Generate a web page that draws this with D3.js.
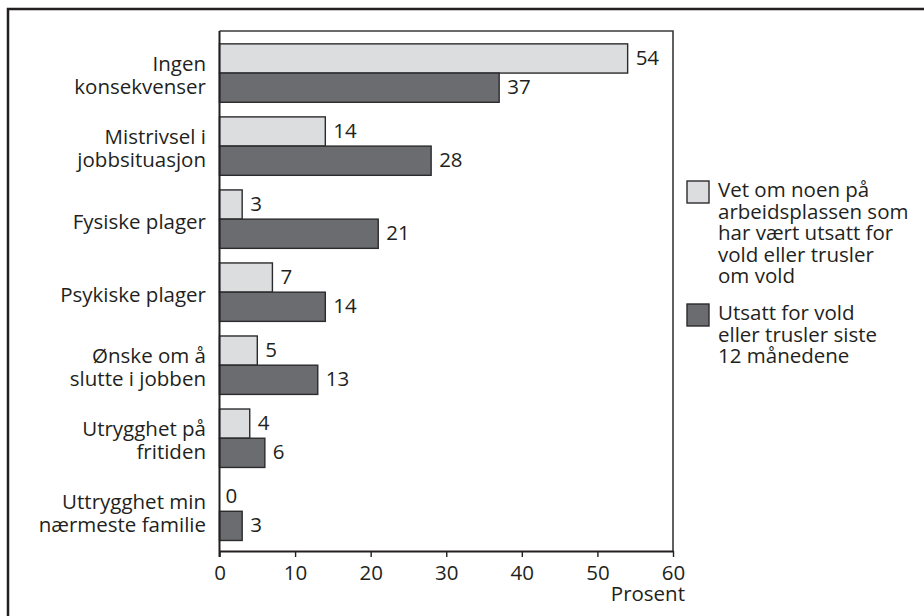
<!DOCTYPE html>
<html>
<head>
<meta charset="utf-8">
<script src="https://cdn.jsdelivr.net/npm/d3@7"></script>
<style>
  html, body { margin: 0; padding: 0; background: #fff; }
  svg { display: block; }
  text { font-family: "Open Sans", "Noto Sans", sans-serif; fill: #231f20; }
</style>
</head>
<body>
<svg id="chart" width="924" height="616"></svg>
<script>
// Consequences reported, in percent
const categories = [
  ["Ingen", "konsekvenser"],
  ["Mistrivsel i", "jobbsituasjon"],
  ["Fysiske plager"],
  ["Psykiske plager"],
  ["Ønske om å", "slutte i jobben"],
  ["Utrygghet på", "fritiden"],
  ["Uttrygghet min", "nærmeste familie"]
];
const knowsSomeone = [54, 14, 3, 7, 5, 4, 0];
const exposed = [37, 28, 21, 14, 13, 6, 3];
const seriesNames = [
  ["Vet om noen på", "arbeidsplassen som", "har vært utsatt for", "vold eller trusler", "om vold"],
  ["Utsatt for vold", "eller trusler siste", "12 månedene"]
];
const xTicks = [0, 10, 20, 30, 40, 50, 60];
const axisTitle = "Prosent";

const colors = ["#dcdddf", "#6b6c70"];
const stroke = "#2b2b2d";
const fontSize = 20.5;

const svg = d3.select("#chart");

// outer frame
svg.append("rect")
  .attr("x", 8).attr("y", 9)
  .attr("width", 1000).attr("height", 700)
  .attr("fill", "none").attr("stroke", "#231f20").attr("stroke-width", 2.5);

const plot = { left: 219.5, right: 673, top: 31, bottom: 551 };

const x = d3.scaleLinear().domain([0, 60]).range([plot.left, plot.right]);
const idx = d3.range(categories.length);
const y = d3.scaleBand().domain(idx).range([plot.top, plot.bottom])
  .paddingInner(0.2).paddingOuter(0.16).align(0.55);
const sub = d3.scaleBand().domain([0, 1]).range([0, y.bandwidth()]);

// plot frame (top and right)
svg.append("path")
  .attr("d", `M${plot.left},${plot.top}H${plot.right}V${plot.bottom}`)
  .attr("fill", "none").attr("stroke", "#3a3a3c").attr("stroke-width", 1.6);

const series = [knowsSomeone, exposed];

const groups = svg.append("g").selectAll("g")
  .data(idx).join("g")
  .attr("transform", i => `translate(0,${y(i)})`);

series.forEach((vals, s) => {
  groups.filter(i => vals[i] > 0).append("rect")
    .attr("x", x(0))
    .attr("y", sub(s))
    .attr("width", i => x(vals[i]) - x(0))
    .attr("height", sub.bandwidth())
    .attr("fill", colors[s])
    .attr("stroke", stroke).attr("stroke-width", 1.4);

  groups.append("text")
    .attr("x", i => x(vals[i]) + (vals[i] > 0 ? 8 : 6))
    .attr("y", sub(s) + sub.bandwidth() / 2 + 6.5)
    .attr("font-size", fontSize)
    .text(i => vals[i]);
});

// category labels
groups.each(function(i) {
  const lines = categories[i];
  const lh = 23.4;
  const t = d3.select(this).append("text")
    .attr("text-anchor", "end")
    .attr("font-size", fontSize)
    .attr("x", 206);
  const c = y.bandwidth() / 2 + 9.5;
  lines.forEach((ln, k) => {
    t.append("tspan")
      .attr("x", 206)
      .attr("y", c + (k - (lines.length - 1) / 2) * lh)
      .text(ln);
  });
});

// x axis
const xAxis = svg.append("g")
  .attr("transform", `translate(0,${plot.bottom})`)
  .call(d3.axisBottom(x).tickValues(xTicks).tickSize(6).tickPadding(6).tickSizeOuter(0));
xAxis.select(".domain").attr("stroke", "#231f20").attr("stroke-width", 2.2);
xAxis.selectAll(".tick line").attr("stroke", "#231f20").attr("stroke-width", 1.4);
xAxis.selectAll(".tick text")
  .attr("font-size", fontSize).attr("fill", "#231f20")
  .attr("dy", null).attr("y", 29)
  .style("font-family", "'Open Sans', 'Noto Sans', sans-serif");

// y axis line
svg.append("line")
  .attr("x1", plot.left).attr("x2", plot.left)
  .attr("y1", plot.top).attr("y2", plot.bottom + 6)
  .attr("stroke", "#231f20").attr("stroke-width", 2);

svg.append("text")
  .attr("x", 685).attr("y", 601)
  .attr("text-anchor", "end")
  .attr("font-size", fontSize)
  .text(axisTitle);

// legend
const legendTops = [181, 304];
const legendLH = 21.6;
seriesNames.forEach((lines, s) => {
  const g = svg.append("g").attr("transform", `translate(687,${legendTops[s]})`);
  g.append("rect")
    .attr("width", 22).attr("height", 22)
    .attr("fill", colors[s]).attr("stroke", stroke).attr("stroke-width", 1.4);
  const t = g.append("text").attr("font-size", fontSize);
  lines.forEach((ln, k) => {
    t.append("tspan").attr("x", 31).attr("y", 16 + k * legendLH).text(ln);
  });
});
</script>
</body>
</html>
